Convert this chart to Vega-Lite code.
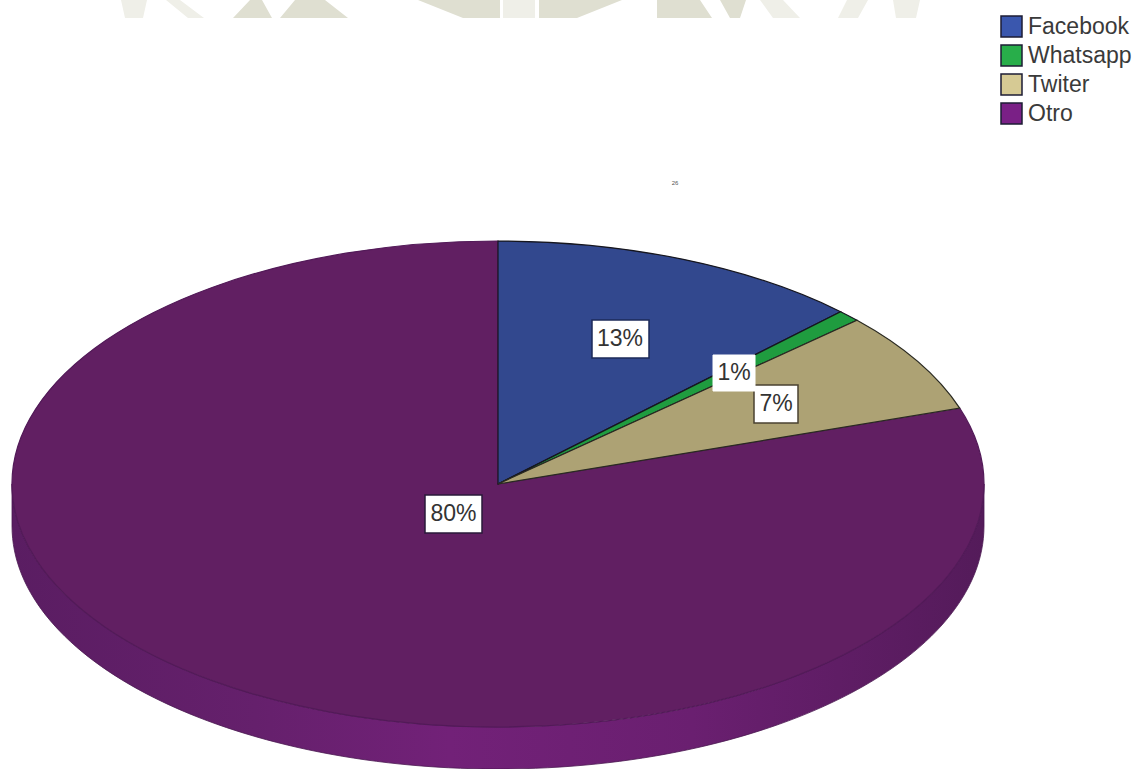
{"$schema":"https://vega.github.io/schema/vega-lite/v6.json","width":1138,"height":769,"padding":0,"autosize":{"type":"none"},"background":"#ffffff","config":{"view":{"stroke":null},"axis":{"disable":true},"text":{"font":"Liberation Sans"}},
"data":{"values":[{"canal":"Otro","porcentaje":80,"etiqueta":"80%"},{"canal":"Facebook","porcentaje":13,"etiqueta":"13%"},{"canal":"Whatsapp","porcentaje":1,"etiqueta":"1%"},{"canal":"Twiter","porcentaje":7,"etiqueta":"7%"}]},
"layer":[
{"transform":[{"filter":"datum.canal==='Otro'"}],"mark":{"type":"point","filled":true,"opacity":1,"size":4,"color":"#dfdfd1","strokeWidth":0,"shape":"M-265,18L-248,0L-236,0L-226,18Z M-218,18L-203,0L-173,0L-150,18Z M-80,0L2,0L2,18L-35,18Z M41,0L124,0L79,18L41,18Z M159,0L202,0L214,18L159,18Z M222,0L248,0L242,18L232,18Z"},"encoding":{"x":{"datum":0,"type":"quantitative","scale":{"domain":[-498,640]}},"y":{"datum":484,"type":"quantitative","scale":{"domain":[-285,484]}}}},
{"transform":[{"filter":"datum.canal==='Otro'"}],"mark":{"type":"point","filled":true,"opacity":1,"size":4,"color":"#efefe8","strokeWidth":0,"shape":"M-377,0L-351,0L-355,18L-373,18Z M-332,0L-318,0L-294,18L-310,18Z M5,0L37,0L37,18L5,18Z M262,0L285,0L302,18L275,18Z M349,0L370,0L360,18L340,18Z M395,0L422,0L418,18L398,18Z"},"encoding":{"x":{"datum":0,"type":"quantitative","scale":{"domain":[-498,640]}},"y":{"datum":484,"type":"quantitative","scale":{"domain":[-285,484]}}}},
{"mark":{"type":"point","filled":true,"opacity":1,"size":0,"strokeWidth":0},"encoding":{"x":{"datum":0,"type":"quantitative","scale":{"domain":[-498,640]}},"y":{"datum":0,"type":"quantitative","scale":{"domain":[-285,484]}},"color":{"field":"canal","type":"nominal","sort":null,"scale":{"domain":["Facebook","Whatsapp","Twiter","Otro"],"range":["#3a57ae","#28ae4a","#d6ca94","#7a2086"]},"legend":{"title":null,"orient":"none","legendX":1000,"legendY":15,"symbolType":"square","symbolSize":441,"symbolOpacity":1,"symbolStrokeColor":"#1c1c34","symbolStrokeWidth":1.5,"labelFont":"Liberation Sans","labelFontSize":23,"labelColor":"#3a3a3a","labelOffset":5,"rowPadding":2,"labelLimit":200}}}},
{"transform":[{"filter":"datum.canal==='Otro'"}],"mark":{"type":"point","filled":true,"opacity":1,"size":944784,"stroke":"#4a1850","strokeWidth":0.8,"shape":"M-1,0L-1,0.0864A1,0.5 0 0 0 1,0.0864L1,0A1,0.5 0 0 1 -1,0Z","fill":{"x1":0,"y1":0,"x2":1,"y2":0,"gradient":"linear","stops":[{"offset":0,"color":"#5a1d62"},{"offset":0.25,"color":"#65206c"},{"offset":0.45,"color":"#722178"},{"offset":0.7,"color":"#6a1f70"},{"offset":1,"color":"#541b5a"}]}},"encoding":{"x":{"datum":0,"type":"quantitative","scale":{"domain":[-498,640]}},"y":{"datum":0,"type":"quantitative","scale":{"domain":[-285,484]}}}},
{"mark":{"type":"point","filled":true,"opacity":1,"size":944784,"strokeWidth":1.2},"encoding":{"x":{"datum":0,"type":"quantitative","scale":{"domain":[-498,640]}},"y":{"datum":0,"type":"quantitative","scale":{"domain":[-285,484]}},"shape":{"field":"canal","type":"nominal","legend":null,"scale":{"domain":["Otro","Facebook","Whatsapp","Twiter"],"range":["M0,0L0.95,-0.1561A1,0.5 0 1 1 0,-0.5Z","M0,0L0,-0.5A1,0.5 0 0 1 0.705,-0.3546Z","M0,0L0.705,-0.3546A1,0.5 0 0 1 0.7387,-0.337Z","M0,0L0.7387,-0.337A1,0.5 0 0 1 0.95,-0.1561Z"]}},"stroke":{"field":"canal","type":"nominal","legend":null,"scale":{"domain":["Otro","Twiter","Whatsapp","Facebook"],"range":["#521a58","#2a2a22","#16161e","#16161e"]}},"fill":{"field":"canal","type":"nominal","legend":null,"scale":{"domain":["Twiter","Otro","Facebook","Whatsapp"],"range":["#ada274","#611f62","#32488e","#1f9c3f"]}}}},
{"transform":[{"filter":"datum.canal==='Otro'"}],"mark":{"type":"text","text":"26","fontSize":6,"color":"#555555","font":"Liberation Sans"},"encoding":{"x":{"datum":177,"type":"quantitative","scale":{"domain":[-498,640]}},"y":{"datum":301,"type":"quantitative","scale":{"domain":[-285,484]}}}},
{"transform":[{"filter":"datum.canal==='Otro'"}],"mark":{"type":"rect","fill":"#ffffff","stroke":"#2a1a3a","strokeWidth":1.5},"encoding":{"x":{"datum":-73,"type":"quantitative","scale":{"domain":[-498,640]}},"x2":{"datum":-16},"y":{"datum":-11,"type":"quantitative","scale":{"domain":[-285,484]}},"y2":{"datum":-49}}},
{"transform":[{"filter":"datum.canal==='Otro'"}],"mark":{"type":"text","fontSize":23,"color":"#333333","font":"Liberation Sans"},"encoding":{"text":{"field":"etiqueta"},"x":{"datum":-44.5,"type":"quantitative","scale":{"domain":[-498,640]}},"y":{"datum":-30,"type":"quantitative","scale":{"domain":[-285,484]}}}},
{"transform":[{"filter":"datum.canal==='Facebook'"}],"mark":{"type":"rect","fill":"#ffffff","stroke":"#1c2a5a","strokeWidth":1.5},"encoding":{"x":{"datum":94,"type":"quantitative","scale":{"domain":[-498,640]}},"x2":{"datum":151},"y":{"datum":164,"type":"quantitative","scale":{"domain":[-285,484]}},"y2":{"datum":126}}},
{"transform":[{"filter":"datum.canal==='Facebook'"}],"mark":{"type":"text","fontSize":23,"color":"#333333","font":"Liberation Sans"},"encoding":{"text":{"field":"etiqueta"},"x":{"datum":122,"type":"quantitative","scale":{"domain":[-498,640]}},"y":{"datum":145,"type":"quantitative","scale":{"domain":[-285,484]}}}},
{"transform":[{"filter":"datum.canal==='Twiter'"}],"mark":{"type":"rect","fill":"#ffffff","stroke":"#4a4230","strokeWidth":1.5},"encoding":{"x":{"datum":256,"type":"quantitative","scale":{"domain":[-498,640]}},"x2":{"datum":300},"y":{"datum":99,"type":"quantitative","scale":{"domain":[-285,484]}},"y2":{"datum":61}}},
{"transform":[{"filter":"datum.canal==='Twiter'"}],"mark":{"type":"text","fontSize":23,"color":"#333333","font":"Liberation Sans"},"encoding":{"text":{"field":"etiqueta"},"x":{"datum":278,"type":"quantitative","scale":{"domain":[-498,640]}},"y":{"datum":80,"type":"quantitative","scale":{"domain":[-285,484]}}}},
{"transform":[{"filter":"datum.canal==='Whatsapp'"}],"mark":{"type":"rect","fill":"#ffffff","stroke":"#ffffff","strokeWidth":1},"encoding":{"x":{"datum":215,"type":"quantitative","scale":{"domain":[-498,640]}},"x2":{"datum":257},"y":{"datum":129,"type":"quantitative","scale":{"domain":[-285,484]}},"y2":{"datum":93}}},
{"transform":[{"filter":"datum.canal==='Whatsapp'"}],"mark":{"type":"text","fontSize":23,"color":"#333333","font":"Liberation Sans"},"encoding":{"text":{"field":"etiqueta"},"x":{"datum":236,"type":"quantitative","scale":{"domain":[-498,640]}},"y":{"datum":111,"type":"quantitative","scale":{"domain":[-285,484]}}}}
]}
